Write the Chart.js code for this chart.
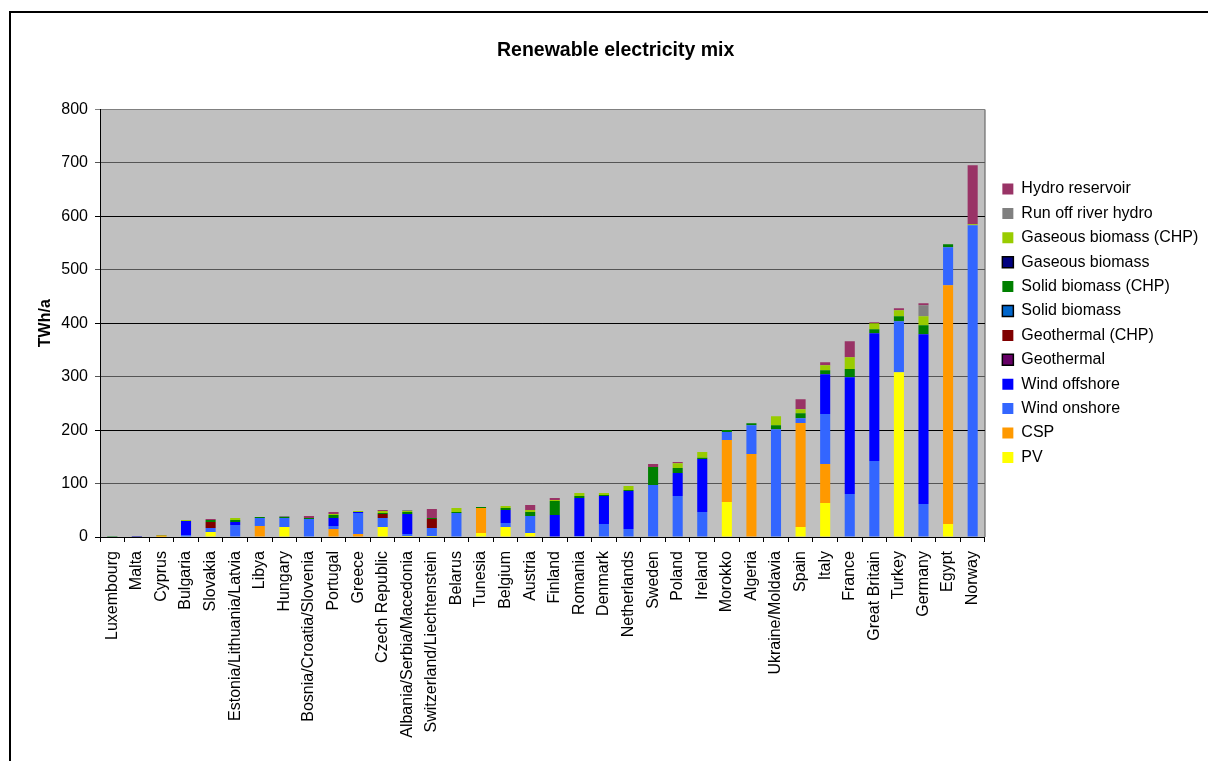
<!DOCTYPE html>
<html>
<head>
<meta charset="utf-8">
<title>Renewable electricity mix</title>
<script src="https://cdn.jsdelivr.net/npm/chart.js@4.4.1/dist/chart.umd.min.js"></script>
<style>
    html, body { margin: 0; padding: 0; background: #fff; overflow: hidden; }
    #frame {
        position: absolute; left: 9px; top: 11px;
        width: 1400px; height: 900px;
        border-left: 2px solid #000; border-top: 2px solid #000;
    }
    #mixChart { position: absolute; left: 0; top: 0; }
</style>
</head>
<body>
<div id="frame"></div>
<canvas id="mixChart" width="1208" height="761"></canvas>
<script>
/* ============================
   Renewable electricity mix
   ============================ */

// Countries, smallest total to largest
const countries = [
    'Luxembourg', 'Malta', 'Cyprus', 'Bulgaria', 'Slovakia', 'Estonia/Lithuania/Latvia',
    'Libya', 'Hungary', 'Bosnia/Croatia/Slovenia', 'Portugal', 'Greece', 'Czech Republic',
    'Albania/Serbia/Macedonia', 'Switzerland/Liechtenstein', 'Belarus', 'Tunesia', 'Belgium', 'Austria',
    'Finland', 'Romania', 'Denmark', 'Netherlands', 'Sweden', 'Poland',
    'Ireland', 'Morokko', 'Algeria', 'Ukraine/Moldavia', 'Spain', 'Italy',
    'France', 'Great Britain', 'Turkey', 'Germany', 'Egypt', 'Norway'
];

// TWh/a per source (stack order, bottom first)
const pv = [
    0, 0.3, 0.3, 0, 9.3, 0,
    0, 18.7, 0, 0, 0, 18.7,
    1.9, 1.9, 0, 7.5, 18.7, 7.5,
    0, 0, 0, 0, 0, 0,
    0, 65.4, 0, 0, 18.7, 63.5,
    0, 0, 308.4, 0, 24.3, 0
];
const csp = [
    0, 0, 2.5, 0, 0, 0,
    20.6, 0, 0, 15, 5.6, 0,
    0, 0, 0, 46.7, 0, 0,
    0, 0, 0, 0, 0, 0,
    0, 115.9, 155.1, 0, 194.4, 72.9,
    0, 0, 0, 0, 446.7, 0
];
const windOnshore = [
    0.5, 0, 0, 3.7, 7.5, 22.4,
    15, 16.8, 33.6, 5.6, 39.3, 16.8,
    3.7, 15, 44.9, 0, 7.5, 31.8,
    0, 1.9, 24.3, 15, 97.2, 76.6,
    46.7, 15, 54.2, 201.8, 9.3, 93.5,
    80.4, 142, 95.3, 61.7, 71, 583.1
];
const windOffshore = [
    0, 1.5, 0, 26.2, 0, 5.6,
    0, 0, 0, 15, 1.9, 0,
    37.4, 0, 0, 0, 24.3, 0,
    41.1, 71, 52.3, 71, 0, 43,
    99, 0, 0, 0, 0, 74.8,
    218.7, 239.2, 0, 317.7, 0, 0
];
const geothermal = new Array(36).fill(0);
const geothermalChp = [
    0, 0, 0, 0, 11.2, 0,
    0, 0, 0, 0, 0, 7.5,
    0, 16.8, 0, 0, 0, 0,
    0, 0, 0, 0, 0, 0,
    0, 0, 0, 0, 0, 0,
    0, 0, 0, 0, 0, 0
];
const solidBiomass = new Array(36).fill(0);
const solidBiomassChp = [
    0.5, 0, 0.8, 0, 3.7, 3.7,
    1.9, 1.9, 1.9, 5.6, 0, 1.9,
    3.7, 1.9, 1.9, 1.9, 3.7, 7.5,
    26.2, 3.7, 1.9, 1.9, 33.6, 9.3,
    2.5, 3.7, 3.7, 7.5, 9.3, 7.5,
    15, 7.5, 9.3, 16.8, 5.6, 0
];
const gaseousBiomass = new Array(36).fill(0);
const gaseousBiomassChp = [
    1, 0, 0, 1.9, 0, 3.7,
    0, 0, 0, 1.9, 1.9, 3.7,
    1.9, 0, 7.5, 0, 3.7, 3.7,
    1.9, 5.6, 3.7, 7.5, 0, 9.3,
    10.6, 0, 0, 16.8, 7.5, 9.3,
    22.4, 11.2, 11.2, 16.8, 0, 1.9
];
const runOffRiver = [
    0, 0, 0, 0, 0, 0,
    0, 1.9, 0, 0, 0, 0,
    1.9, 0, 0, 0, 0, 0,
    0, 0, 0, 0, 0, 0,
    0, 0, 0, 0, 0, 0,
    0, 0, 0, 20.6, 0, 0
];
const hydroReservoir = [
    0, 0, 0, 0, 1.9, 0,
    0, 0, 3.7, 3.7, 0, 1.9,
    0, 16.8, 0, 0, 0, 9.3,
    3.7, 0, 0, 0, 5.6, 1.9,
    0, 0, 0, 0, 18.7, 5.6,
    29.9, 1.9, 3.7, 3.7, 0, 110.3
];

const yTicks = [0, 100, 200, 300, 400, 500, 600, 700, 800];

const seriesColors = {
    pv: '#ffff00',
    csp: '#ff9900',
    onshore: '#3366ff',
    offshore: '#0000ff',
    geo: '#660066',
    geoChp: '#800000',
    solid: '#0066cc',
    solidChp: '#008000',
    gas: '#000080',
    gasChp: '#99cc00',
    river: '#808080',
    reservoir: '#993366'
};

// series shown in Excel with an outlined legend swatch
const outlined = ['Gaseous biomass', 'Solid biomass', 'Geothermal'];

const FONT = "'Liberation Sans', Arial, sans-serif";
Chart.defaults.font.family = FONT;
Chart.defaults.font.size = 16;
Chart.defaults.color = '#000';

function series(label, data, color) {
    return {
        label,
        data,
        backgroundColor: color,
        borderWidth: 0,
        categoryPercentage: 1,
        barPercentage: 0.41
    };
}

const plotBackground = {
    id: 'plotBackground',
    beforeDraw(chart) {
        const { ctx, chartArea: a } = chart;
        ctx.save();
        ctx.fillStyle = '#c0c0c0';
        ctx.fillRect(a.left, a.top, a.right - a.left, a.bottom - a.top);
        ctx.strokeStyle = '#808080';
        ctx.lineWidth = 1.5;
        ctx.beginPath();
        ctx.moveTo(a.right, a.top);
        ctx.lineTo(a.right, a.bottom);
        ctx.stroke();
        ctx.restore();
    },
    afterLayout(chart) {
        // push legend a bit away from the plot, like the original
        chart.legend.left += 9;
        chart.legend.right += 9;
        // title is centred on the whole frame in the original
        chart.titleBlock.left += 11;
        chart.titleBlock.right += 11;
    }
};

new Chart(document.getElementById('mixChart'), {
    type: 'bar',
    data: {
        labels: countries,
        datasets: [
            series('PV', pv, seriesColors.pv),
            series('CSP', csp, seriesColors.csp),
            series('Wind onshore', windOnshore, seriesColors.onshore),
            series('Wind offshore', windOffshore, seriesColors.offshore),
            series('Geothermal', geothermal, seriesColors.geo),
            series('Geothermal (CHP)', geothermalChp, seriesColors.geoChp),
            series('Solid biomass', solidBiomass, seriesColors.solid),
            series('Solid biomass (CHP)', solidBiomassChp, seriesColors.solidChp),
            series('Gaseous biomass', gaseousBiomass, seriesColors.gas),
            series('Gaseous biomass (CHP)', gaseousBiomassChp, seriesColors.gasChp),
            series('Run off river hydro', runOffRiver, seriesColors.river),
            series('Hydro reservoir', hydroReservoir, seriesColors.reservoir)
        ]
    },
    options: {
        responsive: false,
        animation: false,
        devicePixelRatio: 1,
        layout: { padding: { left: 10, right: 8.7, top: 0, bottom: 0 } },
        plugins: {
            title: {
                display: true,
                text: 'Renewable electricity mix',
                color: '#000',
                font: { size: 19.5, weight: 'bold' },
                padding: { top: 39, bottom: 47 }
            },
            legend: {
                position: 'right',
                fullSize: false,
                reverse: true,
                labels: {
                    boxWidth: 11,
                    boxHeight: 11,
                    padding: 8.4,
                    color: '#000',
                    font: { size: 16 },
                    generateLabels(chart) {
                        const items = Chart.defaults.plugins.legend.labels.generateLabels(chart);
                        items.forEach(it => {
                            const boxed = outlined.includes(it.text);
                            it.lineWidth = boxed ? 1.5 : 0;
                            it.strokeStyle = '#000';
                        });
                        return items;
                    }
                }
            },
            tooltip: { enabled: false }
        },
        scales: {
            x: {
                stacked: true,
                afterFit: s => { s.height = 224; },
                grid: { drawOnChartArea: false, tickLength: 5, color: '#000' },
                border: { color: '#000', width: 1 },
                ticks: {
                    autoSkip: false,
                    minRotation: 90,
                    maxRotation: 90,
                    padding: 9,
                    font: { size: 16 },
                    color: '#000'
                }
            },
            y: {
                stacked: true,
                min: 0,
                max: yTicks[yTicks.length - 1],
                afterFit: s => { s.width = 90; },
                afterBuildTicks: s => { s.ticks = yTicks.map(v => ({ value: v })); },
                grid: {
                    tickLength: 5,
                    color: c => {
                        const v = c.tick ? c.tick.value : 0;
                        if (v === 800) return '#808080';
                        return v % 200 === 0 ? '#000' : '#555';
                    }
                },
                border: { color: '#000', width: 1 },
                ticks: { padding: 7, font: { size: 16 }, color: '#000' },
                title: {
                    display: true,
                    text: 'TWh/a',
                    color: '#000',
                    font: { size: 16, weight: 'bold' },
                    padding: { top: 26 }
                }
            }
        }
    },
    plugins: [plotBackground]
});
</script>
</body>
</html>
